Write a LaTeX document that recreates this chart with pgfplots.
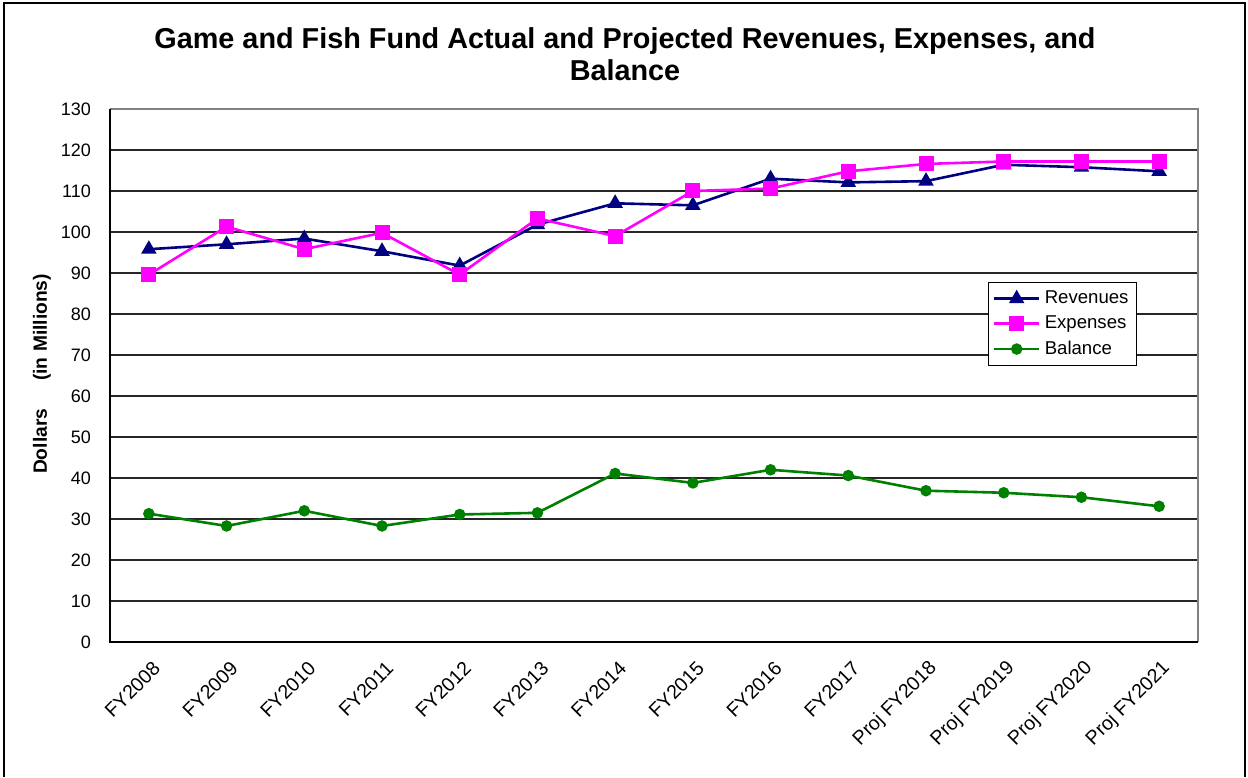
\documentclass[border=0pt]{standalone}
\usepackage{fontspec}
\setmainfont{Liberation Sans}
\usepackage{pgfplots}
\pgfplotsset{compat=1.18}
\definecolor{rev}{RGB}{0,0,128}
\definecolor{exp}{RGB}{255,0,255}
\definecolor{bal}{RGB}{0,128,0}
\begin{document}
\begin{tikzpicture}[x=1pt,y=1pt]
\useasboundingbox (0,0) rectangle (624,388.5);
\draw[line width=0.8pt] (2,0) -- (2,387) -- (622.5,387) -- (622.5,0);
\node[align=center, font=\bfseries\fontsize{14.4}{16}\selectfont] at (312.5,361.5)
  {Game and Fish Fund Actual and Projected Revenues, Expenses, and\\Balance};
\node[rotate=90, font=\bfseries\fontsize{9.6}{10}\selectfont] at (21,201.5)
  {Dollars\hspace{14pt}(in Millions)};
\begin{axis}[
  at={(55pt,67.5pt)}, anchor=south west,
  width=544pt, height=266.5pt, scale only axis,
  xmin=-0.5, xmax=13.5, ymin=0, ymax=130,
  ytick={0,10,...,130},
  xtick={0,...,13},
  xticklabels={FY2008,FY2009,FY2010,FY2011,FY2012,FY2013,FY2014,FY2015,FY2016,FY2017,Proj FY2018,Proj FY2019,Proj FY2020,Proj FY2021},
  ymajorgrids, grid style={black!85, line width=0.6pt},
  major tick length=0pt,
  axis line style={draw=none},
  yticklabel style={font=\fontsize{9}{10}\selectfont, xshift=-6pt},
  xticklabel style={font=\fontsize{9.8}{10}\selectfont, rotate=45, anchor=east, xshift=-2pt, yshift=-11pt},
  /pgf/number format/assume math mode=true,
  legend style={at={(0.807,0.675)}, anchor=north west, draw=black, line width=0.6pt,
    font=\fontsize{9.3}{10.5}\selectfont, inner sep=2pt, row sep=0.6pt},
  legend cell align=left,
  legend image code/.code={\draw[mark repeat=2,mark phase=2] plot coordinates {(0cm,0cm) (0.4cm,0cm) (0.8cm,0cm)};},
  clip=false,
]
\addplot[rev, line width=1.3pt, mark=triangle*, mark size=3.2pt, mark options={solid}] coordinates {
(0,95.8) (1,97.0) (2,98.4) (3,95.3) (4,91.8) (5,101.8) (6,107.0) (7,106.5) (8,113.0) (9,112.1) (10,112.4) (11,116.4) (12,115.8) (13,114.8)};
\addlegendentry{Revenues}
\addplot[exp, line width=1.3pt, mark=square*, mark size=3.1pt] coordinates {
(0,89.6) (1,101.3) (2,95.8) (3,99.8) (4,89.6) (5,103.3) (6,99.0) (7,110.0) (8,110.6) (9,114.8) (10,116.6) (11,117.2) (12,117.2) (13,117.2)};
\addlegendentry{Expenses}
\addplot[bal, line width=1.3pt, mark=*, mark size=2.2pt] coordinates {
(0,31.3) (1,28.3) (2,32.0) (3,28.3) (4,31.1) (5,31.5) (6,41.1) (7,38.8) (8,42.0) (9,40.6) (10,36.9) (11,36.4) (12,35.3) (13,33.1)};
\addlegendentry{Balance}
\draw[gray, line width=0.8pt] (rel axis cs:0,1) -- (rel axis cs:1,1) -- (rel axis cs:1,0);
\draw[black, line width=0.8pt] (rel axis cs:1,0) -- (rel axis cs:0,0) -- (rel axis cs:0,1);
\end{axis}
\end{tikzpicture}
\end{document}
